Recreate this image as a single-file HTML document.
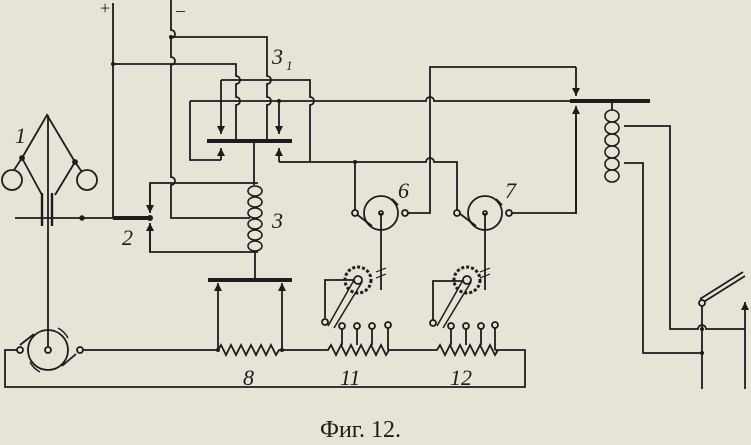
<!DOCTYPE html>
<html><head><meta charset="utf-8"><style>
html,body{margin:0;padding:0;background:#e7e3d6;}
svg{display:block}
text{font-family:"Liberation Serif",serif;fill:#1c1c1c}
</style></head><body>
<svg width="751" height="445" viewBox="0 0 751 445" xmlns="http://www.w3.org/2000/svg">
<defs>
<marker id="ah" markerWidth="9" markerHeight="8" refX="8" refY="4" orient="auto" markerUnits="userSpaceOnUse">
<path d="M0,0 L8,4 L0,8 Z" fill="#1c1c1c"/></marker>
</defs>
<rect width="751" height="445" fill="#e7e3d6"/>
<g stroke="#1c1c1c" stroke-width="1.8" fill="none">
<!-- supply lines -->
<line x1="113" y1="3" x2="113" y2="218"/>
<path d="M171 0 V30 a4 4 0 0 1 0 8 V57 a4 4 0 0 1 0 8 V177 a4 4 0 0 1 0 8 V218 H250"/>
<path d="M171 37 H267 V76 a4 4 0 0 1 0 8 V97 a4 4 0 0 1 0 8 V141"/>
<path d="M113 64 H236 V76 a4 4 0 0 1 0 8 V97 a4 4 0 0 1 0 8 V141"/>
<path d="M221 80 H310 V97 a4 4 0 0 1 0 8 V162"/>
<line x1="221" y1="80" x2="221" y2="134" marker-end="url(#ah)"/>
<path d="M190 101 H426 a4 4 0 0 1 8 0 H570"/>
<path d="M221 160 H190 V101"/>
<line x1="221" y1="160" x2="221" y2="148" marker-end="url(#ah)"/>
<line x1="279" y1="101" x2="279" y2="134" marker-end="url(#ah)"/>
<line x1="279" y1="162" x2="279" y2="148" marker-end="url(#ah)"/>
<path d="M279 162 H426 a4 4 0 0 1 8 0 H457 V213"/>
<line x1="207" y1="141" x2="292" y2="141" stroke-width="4"/>
<line x1="254" y1="141" x2="254" y2="185"/>
<!-- 6 7 -->
<line x1="355" y1="162" x2="355" y2="213"/>
<path d="M405 213 H430 V67 H576"/>
<line x1="576" y1="67" x2="576" y2="96" marker-end="url(#ah)"/>
<path d="M509 213 H576 V110"/>
<line x1="576" y1="214" x2="576" y2="106" marker-end="url(#ah)"/>
<line x1="570" y1="101" x2="650" y2="101" stroke-width="4"/>
<circle cx="381" cy="213" r="17"/>
<circle cx="485" cy="213" r="17"/>
<path d="M355 213 L372 226"/><path d="M392 199 L398 205"/>
<path d="M459 213 L476 226"/><path d="M496 199 L502 205"/>
<circle cx="355" cy="213" r="3" fill="#e7e3d6"/><circle cx="405" cy="213" r="3" fill="#e7e3d6"/>
<circle cx="457" cy="213" r="3" fill="#e7e3d6"/><circle cx="509" cy="213" r="3" fill="#e7e3d6"/>
<circle cx="381" cy="213" r="2"/><circle cx="485" cy="213" r="2"/>
<line x1="381" y1="213" x2="381" y2="290"/>
<line x1="485" y1="213" x2="485" y2="290"/>
<path d="M376 272 l10 -4 M376 278 l10 -4 M480 272 l10 -4 M480 278 l10 -4" stroke-width="1.2"/>
<!-- gears -->
<circle cx="358" cy="280" r="13" stroke-dasharray="3 2" stroke-width="3"/>
<circle cx="358" cy="280" r="4"/>
<circle cx="467" cy="280" r="13" stroke-dasharray="3 2" stroke-width="3"/>
<circle cx="467" cy="280" r="4"/>
<path d="M354 280 L328 326 M362 282 L334 328" stroke-width="1.5"/>
<path d="M463 280 L437 326 M471 282 L443 328" stroke-width="1.5"/>
<path d="M354 280 H325 V318"/><path d="M463 281 H433 V320"/>
<circle cx="325" cy="322" r="3"/><circle cx="433" cy="323" r="3"/>
<!-- right coil -->
<line x1="612" y1="101" x2="612" y2="110"/>
<g stroke-width="1.6">
<ellipse cx="612" cy="116" rx="7" ry="6"/><ellipse cx="612" cy="128" rx="7" ry="6"/><ellipse cx="612" cy="140" rx="7" ry="6"/><ellipse cx="612" cy="152" rx="7" ry="6"/><ellipse cx="612" cy="164" rx="7" ry="6"/><ellipse cx="612" cy="176" rx="7" ry="6"/>
</g>
<path d="M624 126 H670 V329 H698 a4 4 0 0 1 8 0 H745"/>
<path d="M624 163 H643 V353 H702"/>
<line x1="702" y1="303" x2="702" y2="389"/>
<path d="M702 303 L745 276"/><path d="M700 299 L743 272"/>
<circle cx="702" cy="303" r="3" fill="#e7e3d6"/>
<line x1="745" y1="389" x2="745" y2="302" marker-end="url(#ah)"/>
<!-- governor -->
<line x1="48" y1="115" x2="48" y2="350"/>
<path d="M22 158 L47 115 L75 162"/>
<path d="M22 158 L14 170 M75 162 L82 172"/>
<circle cx="12" cy="180" r="10"/><circle cx="87" cy="180" r="10"/>
<path d="M22 158 L42 195 M75 162 L55 195"/>
<line x1="42" y1="193" x2="42" y2="226" stroke-width="2.4"/>
<line x1="52" y1="193" x2="52" y2="226" stroke-width="2.4"/>
<line x1="15" y1="218" x2="150" y2="218"/>
<circle cx="22" cy="158" r="2" fill="#1c1c1c"/><circle cx="75" cy="162" r="2" fill="#1c1c1c"/>
<circle cx="82" cy="218" r="1.8" fill="#1c1c1c"/>
<line x1="113" y1="218" x2="150" y2="218" stroke-width="4"/>
<path d="M258 183 H150 V212"/>
<line x1="150" y1="183" x2="150" y2="213" marker-end="url(#ah)"/>
<path d="M258 252 H150 V226"/>
<line x1="150" y1="252" x2="150" y2="223" marker-end="url(#ah)"/>
<!-- coil 3 -->
<g stroke-width="1.6">
<ellipse cx="255" cy="191" rx="7" ry="5"/><ellipse cx="255" cy="202" rx="7" ry="5"/><ellipse cx="255" cy="213" rx="7" ry="5"/><ellipse cx="255" cy="224" rx="7" ry="5"/><ellipse cx="255" cy="235" rx="7" ry="5"/><ellipse cx="255" cy="246" rx="7" ry="5"/>
</g>
<line x1="255" y1="252" x2="255" y2="280"/>
<line x1="208" y1="280" x2="292" y2="280" stroke-width="4"/>
<line x1="218" y1="350" x2="218" y2="283" marker-end="url(#ah)"/>
<line x1="282" y1="350" x2="282" y2="283" marker-end="url(#ah)"/>
<!-- wheel -->
<circle cx="48" cy="350" r="20"/>
<circle cx="48" cy="350" r="3" fill="#e7e3d6"/>
<path d="M20 345 L34 334 M62 366 L76 354"/>
<path d="M30 362 A24 24 0 0 0 40 372 M68 338 A24 24 0 0 0 58 328" stroke-width="1.4"/>
<!-- bottom circuit -->
<path d="M20 350 H5 V387 H525 V350 H495"/>
<path d="M80 350 H218 l3 -5 l5 10 l5 -10 l5 10 l5 -10 l5 10 l5 -10 l5 10 l5 -10 l5 10 l5 -10 l5 10 l3 -5 H328 l3 -5 l5 10 l5 -10 l5 10 l5 -10 l5 10 l5 -10 l5 10 l5 -10 l5 10 l5 -10 l5 10 l3 -5 H437 l3 -5 l5 10 l5 -10 l5 10 l5 -10 l5 10 l5 -10 l5 10 l5 -10 l5 10 l5 -10 l5 10 l3 -5"/>
<path d="M342 345 V326 M357 345 V326 M372 345 V326 M388 350 V326"/>
<path d="M451 345 V326 M466 345 V326 M481 345 V326 M495 350 V326"/>
<g fill="#e7e3d6">
<circle cx="342" cy="326" r="3"/><circle cx="357" cy="326" r="3"/><circle cx="372" cy="326" r="3"/><circle cx="388" cy="325" r="3"/>
<circle cx="451" cy="326" r="3"/><circle cx="466" cy="326" r="3"/><circle cx="481" cy="326" r="3"/><circle cx="495" cy="325" r="3"/>
<circle cx="20" cy="350" r="3"/><circle cx="80" cy="350" r="3"/>
</g>
</g>
<g fill="#1c1c1c">
<circle cx="113" cy="64" r="2"/><circle cx="171" cy="37" r="2"/><circle cx="279" cy="101" r="2"/>
<circle cx="355" cy="162" r="2"/><circle cx="218" cy="350" r="2"/><circle cx="282" cy="350" r="2"/>
<circle cx="150" cy="218" r="3"/><circle cx="702" cy="329" r="2"/><circle cx="702" cy="353" r="2"/>
</g>
<g font-style="italic" font-size="22">
<text x="15" y="143">1</text>
<text x="122" y="245">2</text>
<text x="272" y="228">3</text>
<text x="272" y="64">3</text><text x="286" y="70" font-size="13">1</text>
<text x="398" y="198">6</text>
<text x="505" y="198">7</text>
<text x="243" y="385">8</text>
<text x="340" y="385">11</text>
<text x="450" y="385">12</text>
</g>
<text x="100" y="14" font-size="18">+</text>
<text x="176" y="16" font-size="18">–</text>
<text x="320" y="437" font-size="24">Фиг. 12.</text>
</svg>
</body></html>
